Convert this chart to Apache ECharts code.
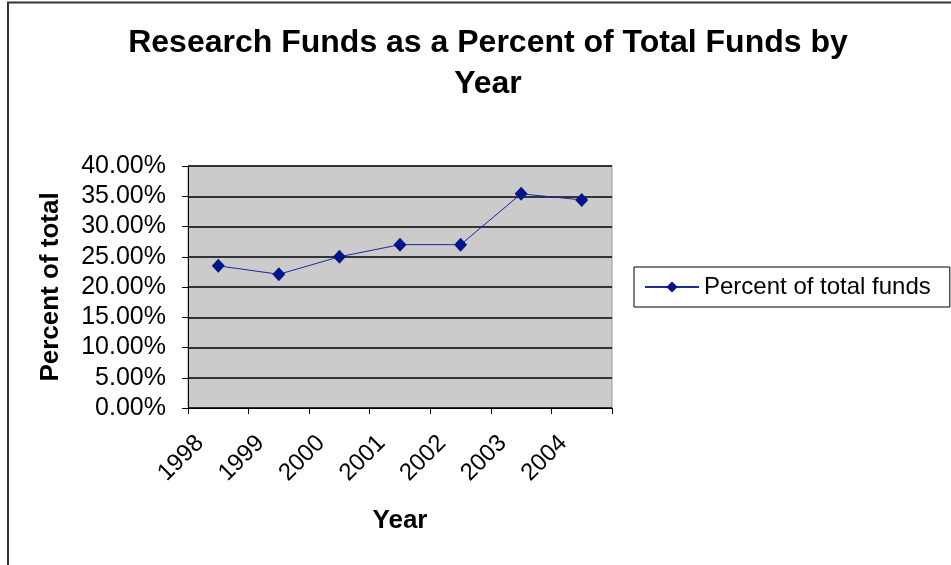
<!DOCTYPE html>
<html>
<head>
<meta charset="utf-8">
<style>
  html, body { margin: 0; padding: 0; background: #fff; }
  #chart { width: 951px; height: 565px; }
</style>
<script src="https://cdn.jsdelivr.net/npm/echarts@6/dist/echarts.min.js"></script>
</head>
<body>
<div id="chart"></div>
<script>
// Years on the category axis
var years = ['1998', '1999', '2000', '2001', '2002', '2003', '2004'];
// Research funds as a percent of total funds
var percentOfTotal = [23.5, 22.1, 25.0, 27.0, 27.0, 35.4, 34.4];
// Value axis range
var yMin = 0, yMax = 40, yStep = 5;

var FONT = "'Liberation Sans', Arial, sans-serif";
var chart = echarts.init(document.getElementById('chart'), null, { renderer: 'canvas' });

chart.setOption({
  backgroundColor: '#ffffff',
  animation: false,
  graphic: [
    {
      type: 'polyline',
      silent: true,
      shape: { points: [[8, 570], [8, 2.5], [955, 2.5]] },
      style: { stroke: '#333333', lineWidth: 2, fill: null }
    },
    {
      type: 'text',
      silent: true,
      style: {
        x: 488, y: 23,
        text: 'Research Funds as a Percent of Total Funds by\nYear',
        textAlign: 'center',
        font: 'bold 32px ' + FONT,
        lineHeight: 41,
        fill: '#000'
      }
    }
  ],
  grid: {
    left: 188, top: 166, right: 339, bottom: 157,
    show: true,
    backgroundColor: '#cbcbcb',
    borderColor: '#9a9a9a',
    borderWidth: 1
  },
  legend: {
    left: 634, top: 267,
    padding: [8, 19, 8, 10],
    borderColor: '#000',
    borderWidth: 1,
    itemWidth: 54, itemHeight: 14,
    itemGap: 5,
    textStyle: { fontFamily: FONT, fontSize: 24, color: '#000' },
    data: ['Percent of total funds']
  },
  xAxis: {
    type: 'category',
    data: years,
    boundaryGap: true,
    name: 'Year',
    nameLocation: 'middle',
    nameGap: 100,
    nameTextStyle: { fontFamily: FONT, fontSize: 26, fontWeight: 'bold', color: '#000' },
    axisLine: { lineStyle: { color: '#000', width: 1 } },
    axisTick: { show: true, length: 6, lineStyle: { color: '#000' } },
    axisLabel: {
      rotate: 45, margin: 13, padding: [0, 26, 0, 0],
      fontFamily: FONT, fontSize: 24, color: '#000'
    },
    splitLine: { show: false }
  },
  yAxis: {
    type: 'value',
    min: yMin, max: yMax, interval: yStep,
    name: 'Percent of total',
    nameLocation: 'middle',
    nameRotate: 90,
    nameGap: 124,
    nameTextStyle: { fontFamily: FONT, fontSize: 26, fontWeight: 'bold', color: '#000' },
    axisLine: { show: true, lineStyle: { color: '#000', width: 1 } },
    axisTick: { show: true, length: 6, lineStyle: { color: '#000' } },
    axisLabel: {
      margin: 22,
      fontFamily: FONT, fontSize: 25, color: '#000',
      formatter: function (v) { return v.toFixed(2) + '%'; }
    },
    splitLine: { show: true, lineStyle: { color: '#000', width: 1.5 } }
  },
  series: [
    {
      name: 'Percent of total funds',
      type: 'line',
      data: percentOfTotal,
      symbol: 'diamond',
      symbolSize: [13, 14],
      itemStyle: { color: '#00148c' },
      lineStyle: { color: '#1a2a9a', width: 1 }
    }
  ]
});
</script>
</body>
</html>
